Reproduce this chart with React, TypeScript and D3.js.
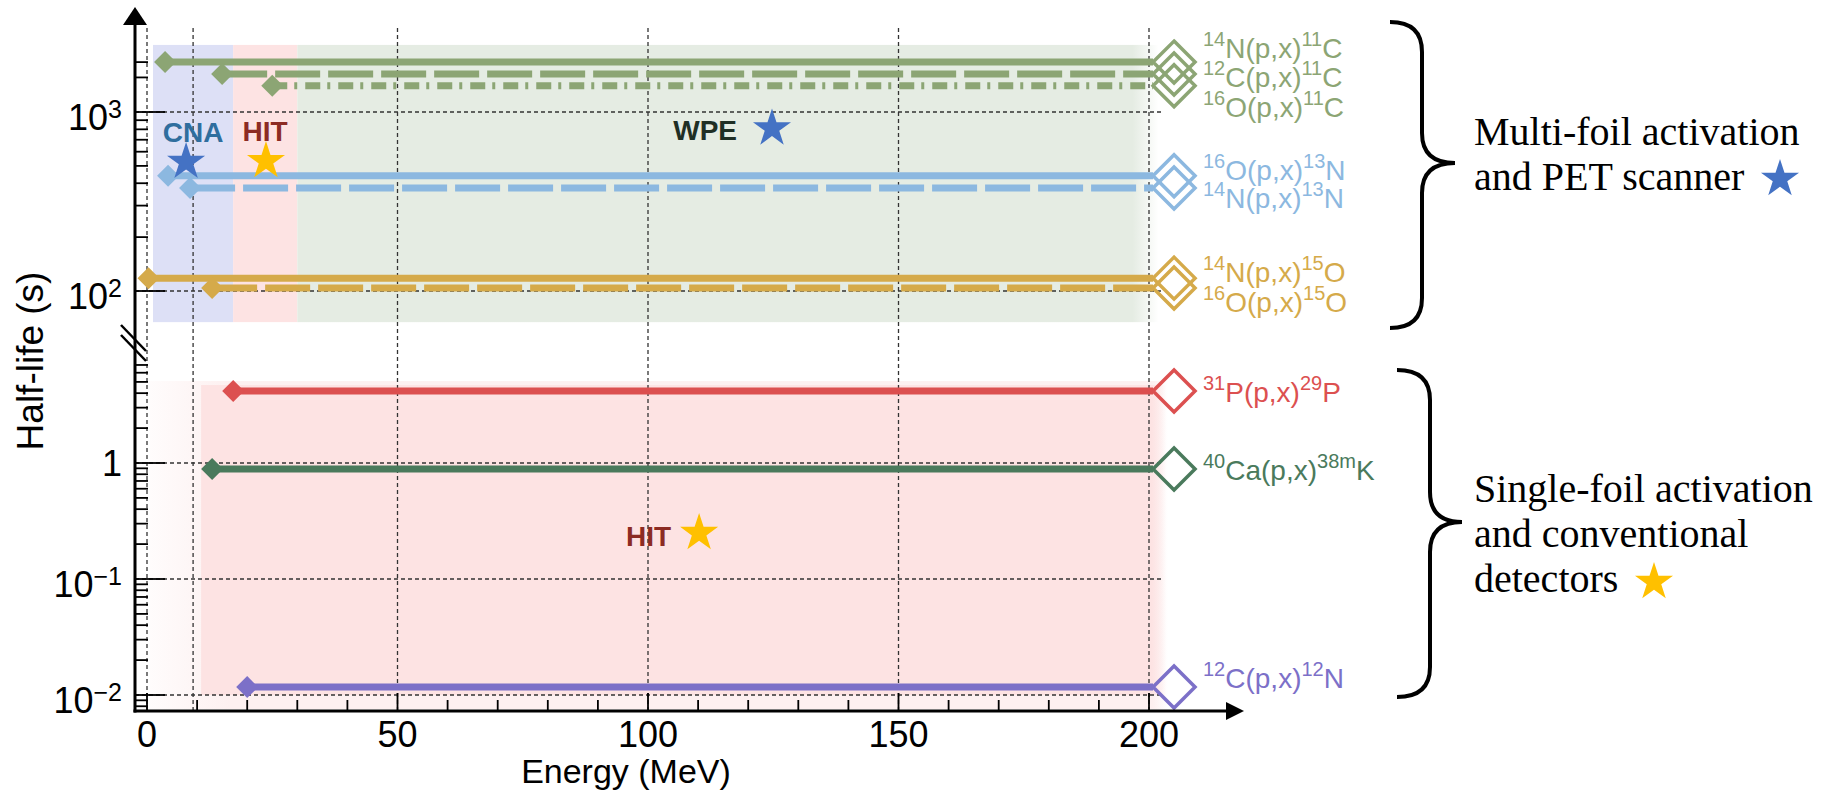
import React from 'react';
import * as d3 from 'd3';

// Half-lives (s) and reaction thresholds (MeV)
const upperLabels = [
  ['14', 'N(p,x)', '11', 'C'],
  ['12', 'C(p,x)', '11', 'C'],
  ['16', 'O(p,x)', '11', 'C'],
  ['16', 'O(p,x)', '13', 'N'],
  ['14', 'N(p,x)', '13', 'N'],
  ['14', 'N(p,x)', '15', 'O'],
  ['16', 'O(p,x)', '15', 'O'],
];
const upperHalfLife = [1900, 1630, 1400, 440, 376, 118, 104];
const upperThreshold = [3.6, 15, 25, 4.2, 8.6, 0.3, 13];
const upperProduct = ['11C', '11C', '11C', '13N', '13N', '15O', '15O'];
const upperStyle = ['solid', 'dash', 'dashdot', 'solid', 'dash', 'solid', 'dash'];

const lowerLabels = [
  ['31', 'P(p,x)', '29', 'P'],
  ['40', 'Ca(p,x)', '38m', 'K'],
  ['12', 'C(p,x)', '12', 'N'],
];
const lowerHalfLife = [4.18, 0.888, 0.0117];
const lowerThreshold = [17.2, 13, 20];
const lowerProduct = ['29P', '38mK', '12N'];

const maxEnergy = 200;
const endMarkerEnergy = 205;

// facility energy ranges (background bands)
const facilities = ['CNA', 'HIT', 'WPE'];
const facilityFrom = [1.2, 17.2, 30];
const facilityTo = [17.2, 30, 199.5];
const upperBandRange = [67, 2370];
const lowerFacilityFrom = 10.8;
const lowerFacilityTo = 201;
const lowerBandRange = [0.01, 4.7];

// facility markers
const annotLabels = ['CNA', 'HIT', 'WPE', 'HIT'];
const annotEnergy = [7.8, 23.75, 124.75, 110.2];
const annotHalfLife = [526, 532, 809, 0.249];
const annotPanel = ['upper', 'upper', 'upper', 'lower'];
const annotKind = ['pet', 'det', 'pet', 'det'];

const xTicks = [0, 50, 100, 150, 200];
const xMinorTicks = [10, 20, 30, 40, 60, 70, 80, 90, 110, 120, 130, 140, 160, 170, 180, 190];
const xGrid = [0, 9.2, 50, 100, 150, 200];
const upperMajor = [100, 1000];
const upperMinor = [200, 300, 400, 500, 600, 700, 800, 900, 1560, 1900];
const lowerMajor = [0.01, 0.1, 1];
const lowerMinor = [0.008, 0.009, 0.02, 0.03, 0.04, 0.05, 0.06, 0.07, 0.08, 0.09,
  0.2, 0.3, 0.4, 0.5, 0.6, 0.7, 0.8, 0.9, 2, 3, 4, 5, 6, 7];

const colors: Record<string, string> = {
  '11C': '#8ca574', '13N': '#8cb8e0', '15O': '#d5aa4a',
  '29P': '#dc5050', '38mK': '#4a7a5c', '12N': '#7c70c8',
};
const bandColors: Record<string, string> = { CNA: '#dde0f6', HIT: '#fde3e3', WPE: '#e5ece3' };
const annotColors: Record<string, string> = { CNA: '#2f6e9e', HIT: '#8c2b23', WPE: '#1f2f25' };
const starColors: Record<string, string> = { pet: '#4472c4', det: '#ffc000' };
const dashes: Record<string, string | undefined> = { solid: undefined, dash: '45,8', dashdot: '15,7,3,8' };

const W = 1828;
const H = 795;
const AXIS_X = 135;
const AXIS_Y = 711;

const x = d3.scaleLinear().domain([0, maxEnergy]).range([147, 1149]);
const yU = d3.scaleLog().domain([100, 1000]).range([291, 112]);
const yL = d3.scaleLog().domain([0.01, 1]).range([695, 463]);

const diamond = (r: number) => `M0,${-r}L${r},0L0,${r}L${-r},0Z`;
const starPath = (R: number) => d3.symbol().type(d3.symbolStar).size((R * R) / 0.8908130915292852)() as string;

function brace(x0: number, xv: number, xt: number, y0: number, ym: number, y1: number) {
  const c = 30;
  return `M${x0},${y0} Q${xv},${y0} ${xv},${y0 + c} L${xv},${ym - c} Q${xv},${ym} ${xt},${ym} ` +
    `Q${xv},${ym} ${xv},${ym + c} L${xv},${y1 - c} Q${xv},${y1} ${x0},${y1}`;
}

const sans = 'Liberation Sans, Arial, Helvetica, sans-serif';
const serif = 'Liberation Serif, Times New Roman, serif';

function Reaction({ parts, px, py, color }: { parts: string[]; px: number; py: number; color: string }) {
  return (
    <text x={px} y={py} fill={color} fontSize={28} fontFamily={sans}>
      <tspan fontSize={20} dy={-12}>{parts[0]}</tspan>
      <tspan dy={12}>{parts[1]}</tspan>
      <tspan fontSize={20} dy={-12}>{parts[2]}</tspan>
      <tspan dy={12}>{parts[3]}</tspan>
    </text>
  );
}

function Series({ values, thresholds, products, styles, scale, labels, labelDy, width }: any) {
  const xEnd = x(endMarkerEnergy);
  return (
    <g>
      {values.map((v: number, i: number) => {
        const yy = scale(v);
        const c = colors[products[i]];
        return (
          <g key={i}>
            <line x1={x(thresholds[i])} x2={xEnd - 21} y1={yy} y2={yy} stroke={c} strokeWidth={width}
              strokeDasharray={dashes[styles[i]]} />
            <path d={diamond(11)} transform={`translate(${x(thresholds[i])},${yy})`} fill={c} />
            <path d={diamond(21)} transform={`translate(${xEnd},${yy})`} fill="none" stroke={c} strokeWidth={3.5} />
            <Reaction parts={labels[i]} px={1203} py={yy + labelDy[i]} color={c} />
          </g>
        );
      })}
    </g>
  );
}

export default function App() {
  const upperLabelDy = [-4, 13, 31, 4, 20, 4, 24];
  const lowerLabelDy = [11, 11, 1];
  const bandTop = yU(upperBandRange[1]);
  const bandBottom = yU(upperBandRange[0]);
  const lowTop = yL(lowerBandRange[1]);
  const lowBottom = yL(lowerBandRange[0]);

  return (
    <svg width={W} height={H} style={{ position: 'absolute', left: 0, top: 0, background: '#fff' }} fontFamily={sans}>
      <defs>
        <linearGradient id="wpeFade" x1="0" x2="1" y1="0" y2="0">
          <stop offset="0.97" stopColor={bandColors.WPE} stopOpacity={1} />
          <stop offset="1" stopColor={bandColors.WPE} stopOpacity={0} />
        </linearGradient>
        <linearGradient id="hitFade" x1="0" x2="1" y1="0" y2="0">
          <stop offset="0.985" stopColor={bandColors.HIT} stopOpacity={1} />
          <stop offset="1" stopColor={bandColors.HIT} stopOpacity={0} />
        </linearGradient>
        <linearGradient id="faintFade" x1="0" x2="1" y1="0" y2="0">
          <stop offset="0" stopColor="#fdf0f0" stopOpacity={0.2} />
          <stop offset="0.08" stopColor="#fdf0f0" stopOpacity={1} />
          <stop offset="0.985" stopColor="#fdf0f0" stopOpacity={1} />
          <stop offset="1" stopColor="#fdf0f0" stopOpacity={0} />
        </linearGradient>
      </defs>

      {/* facility bands */}
      {facilities.map((f, i) => (
        <rect key={f} x={x(facilityFrom[i])} y={bandTop} width={x(facilityTo[i]) - x(facilityFrom[i]) + (f === 'WPE' ? 12 : 0)}
          height={bandBottom - bandTop} fill={f === 'WPE' ? 'url(#wpeFade)' : bandColors[f]} />
      ))}
      <rect x={150} y={lowTop - 4} width={x(lowerFacilityTo) + 14 - 150} height={AXIS_Y - 2 - lowTop + 4} fill="url(#faintFade)" />
      <rect x={x(lowerFacilityFrom)} y={lowTop} width={x(lowerFacilityTo) + 12 - x(lowerFacilityFrom)} height={lowBottom - lowTop}
        fill="url(#hitFade)" />

      {/* grid */}
      <g stroke="#333" strokeWidth={1.3} strokeDasharray="4,3">
        {xGrid.map((e) => <line key={e} x1={x(e)} x2={x(e)} y1={28} y2={AXIS_Y} />)}
        {upperMajor.map((v) => <line key={v} x1={AXIS_X} x2={1162} y1={yU(v)} y2={yU(v)} />)}
        {lowerMajor.map((v) => <line key={v} x1={AXIS_X} x2={1162} y1={yL(v)} y2={yL(v)} />)}
      </g>

      {/* series */}
      <Series values={upperHalfLife} thresholds={upperThreshold} products={upperProduct} styles={upperStyle}
        scale={yU} labels={upperLabels} labelDy={upperLabelDy} width={7} />
      <Series values={lowerHalfLife} thresholds={lowerThreshold} products={lowerProduct}
        styles={lowerProduct.map(() => 'solid')} scale={yL} labels={lowerLabels} labelDy={lowerLabelDy} width={7} />

      {/* facility markers */}
      {annotLabels.map((t, i) => {
        const sx = x(annotEnergy[i]);
        const sy = annotPanel[i] === 'upper' ? yU(annotHalfLife[i]) : yL(annotHalfLife[i]);
        const above = i < 2;
        return (
          <g key={i}>
            <path d={starPath(20)} transform={`translate(${sx},${sy})`} fill={starColors[annotKind[i]]} />
            <text x={above ? sx + (i === 0 ? 7 : -1) : sx - (i === 2 ? 35 : 28)} y={above ? sy - 20 : sy + (i === 2 ? 11.5 : 13)}
              textAnchor={above ? 'middle' : 'end'} fontWeight="bold" fontSize={28} fill={annotColors[t]}>{t}</text>
          </g>
        );
      })}

      {/* axes */}
      <g stroke="#000">
        <line x1={AXIS_X} x2={AXIS_X} y1={24} y2={AXIS_Y + 1.5} strokeWidth={3} />
        <line x1={AXIS_X - 1.5} x2={1230} y1={AXIS_Y} y2={AXIS_Y} strokeWidth={3} />
        {upperMajor.map((v) => <line key={v} x1={AXIS_X} x2={AXIS_X + 30} y1={yU(v)} y2={yU(v)} strokeWidth={1.8} />)}
        {upperMinor.map((v) => <line key={v} x1={AXIS_X} x2={AXIS_X + 13} y1={yU(v)} y2={yU(v)} strokeWidth={1.8} />)}
        {lowerMajor.map((v) => <line key={v} x1={AXIS_X} x2={AXIS_X + 30} y1={yL(v)} y2={yL(v)} strokeWidth={1.8} />)}
        {lowerMinor.map((v) => <line key={v} x1={AXIS_X} x2={AXIS_X + 13} y1={yL(v)} y2={yL(v)} strokeWidth={1.8} />)}
        {xTicks.map((t) => <line key={t} x1={x(t)} x2={x(t)} y1={AXIS_Y} y2={AXIS_Y - 18} strokeWidth={1.8} />)}
        {xMinorTicks.map((t) => <line key={t} x1={x(t)} x2={x(t)} y1={AXIS_Y} y2={AXIS_Y - 11} strokeWidth={1.8} />)}
        <line x1={121} y1={325} x2={146} y2={351} strokeWidth={2.5} />
        <line x1={121} y1={335} x2={146} y2={361} strokeWidth={2.5} />
      </g>
      <path d={`M${AXIS_X - 12},25 L${AXIS_X + 12},25 L${AXIS_X},7 Z`} fill="#000" />
      <path d={`M1226,${AXIS_Y - 9} L1226,${AXIS_Y + 9} L1244,${AXIS_Y} Z`} fill="#000" />

      {/* tick labels */}
      <g fontSize={36} fill="#000">
        {xTicks.map((t) => <text key={t} x={x(t)} y={747} textAnchor="middle">{t}</text>)}
        {[3, 2].map((p) => (
          <text key={p} x={122} y={yU(10 ** p) + 18} textAnchor="end">10<tspan fontSize={25} dy={-12}>{p}</tspan></text>
        ))}
        <text x={122} y={yL(1) + 13} textAnchor="end">1</text>
        {[-1, -2].map((p) => (
          <text key={p} x={122} y={yL(10 ** p) + 18} textAnchor="end">10<tspan fontSize={25} dy={-12}>{`\u2212${-p}`}</tspan></text>
        ))}
      </g>
      <text x={626} y={783} textAnchor="middle" fontSize={34}>Energy (MeV)</text>
      <text transform="translate(43,361) rotate(-90)" textAnchor="middle" fontSize={37}>Half-life (s)</text>

      {/* group braces */}
      <g fill="none" stroke="#000" strokeWidth={4}>
        <path d={brace(1390, 1422, 1455, 22, 163, 328)} />
        <path d={brace(1397, 1430, 1462, 370, 522, 697)} />
      </g>
      <g fontFamily={serif} fontSize={40} fill="#000">
        <text x={1474} y={145}>Multi-foil activation</text>
        <text x={1474} y={190}>and PET scanner</text>
        <text x={1474} y={502}>Single-foil activation</text>
        <text x={1474} y={547}>and conventional</text>
        <text x={1474} y={592}>detectors</text>
      </g>
      <path d={starPath(20)} transform="translate(1780,179)" fill={starColors.pet} />
      <path d={starPath(20)} transform="translate(1654,582)" fill={starColors.det} />
    </svg>
  );
}
